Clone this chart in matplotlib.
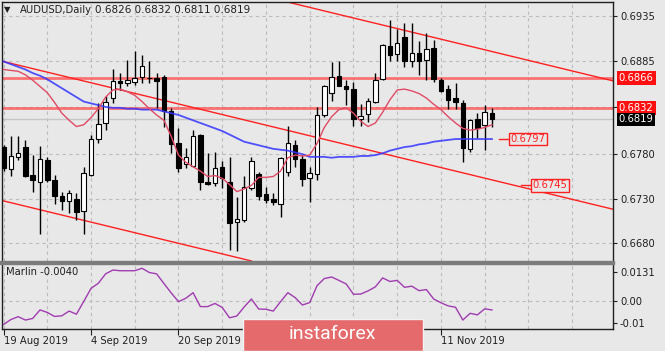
import matplotlib
matplotlib.use('Agg')
import matplotlib.pyplot as plt
from matplotlib.patches import Rectangle
from matplotlib.transforms import blended_transform_factory

# ---------------- data ----------------
date_labels = ["19 Aug 2019", "4 Sep 2019", "20 Sep 2019", "11 Nov 2019"]
date_index = [0, 12, 24, 60]

opens = [0.6788, 0.6763, 0.6777, 0.6788, 0.6757, 0.6749, 0.6774, 0.6751, 0.6733, 0.6727,
         0.6730, 0.6716, 0.6757, 0.6797, 0.6815, 0.6843, 0.6862, 0.6860, 0.6861, 0.6867,
         0.6866, 0.6866, 0.6867, 0.6828, 0.6792, 0.6769, 0.6767, 0.6802, 0.6749, 0.6748,
         0.6766, 0.6749, 0.6704, 0.6706, 0.6742, 0.6758, 0.6735, 0.6730, 0.6724, 0.6760,
         0.6790, 0.6775, 0.6753, 0.6758, 0.6824, 0.6849, 0.6868, 0.6856, 0.6853, 0.6820,
         0.6825, 0.6838, 0.6864, 0.6901, 0.6892, 0.6912, 0.6884, 0.6894, 0.6886, 0.6899,
         0.6863, 0.6853, 0.6843, 0.6837, 0.6786, 0.6819, 0.6813, 0.6826]
highs = [0.6790, 0.6800, 0.6800, 0.6796, 0.6779, 0.6789, 0.6777, 0.6757, 0.6738, 0.6740,
         0.6736, 0.6766, 0.6802, 0.6837, 0.6845, 0.6876, 0.6871, 0.6886, 0.6896, 0.6891,
         0.6884, 0.6871, 0.6869, 0.6832, 0.6809, 0.6787, 0.6807, 0.6803, 0.6781, 0.6783,
         0.6772, 0.6777, 0.6732, 0.6755, 0.6777, 0.6760, 0.6743, 0.6736, 0.6777, 0.6812,
         0.6796, 0.6779, 0.6766, 0.6833, 0.6858, 0.6883, 0.6885, 0.6863, 0.6861, 0.6836,
         0.6843, 0.6871, 0.6904, 0.6931, 0.6920, 0.6927, 0.6927, 0.6907, 0.6916, 0.6908,
         0.6865, 0.6858, 0.6860, 0.6841, 0.6820, 0.6826, 0.6835, 0.6832]
lows = [0.6761, 0.6755, 0.6773, 0.6754, 0.6738, 0.6690, 0.6749, 0.6724, 0.6717, 0.6714,
        0.6706, 0.6690, 0.6755, 0.6793, 0.6807, 0.6837, 0.6852, 0.6856, 0.6858, 0.6860,
        0.6860, 0.6832, 0.6811, 0.6781, 0.6760, 0.6764, 0.6766, 0.6740, 0.6746, 0.6744,
        0.6742, 0.6673, 0.6671, 0.6704, 0.6740, 0.6729, 0.6725, 0.6723, 0.6710, 0.6755,
        0.6766, 0.6744, 0.6726, 0.6751, 0.6822, 0.6840, 0.6856, 0.6835, 0.6812, 0.6812,
        0.6816, 0.6837, 0.6863, 0.6884, 0.6884, 0.6878, 0.6878, 0.6869, 0.6863, 0.6861,
        0.6850, 0.6831, 0.6831, 0.6771, 0.6782, 0.6798, 0.6785, 0.6811]
closes = [0.6764, 0.6778, 0.6781, 0.6756, 0.6751, 0.6775, 0.6751, 0.6733, 0.6728, 0.6736,
          0.6715, 0.6759, 0.6797, 0.6814, 0.6839, 0.6862, 0.6860, 0.6863, 0.6866, 0.6879,
          0.6865, 0.6862, 0.6828, 0.6791, 0.6764, 0.6777, 0.6800, 0.6749, 0.6747, 0.6764,
          0.6753, 0.6703, 0.6707, 0.6743, 0.6772, 0.6733, 0.6729, 0.6726, 0.6776, 0.6793,
          0.6775, 0.6752, 0.6759, 0.6824, 0.6856, 0.6867, 0.6857, 0.6853, 0.6819, 0.6823,
          0.6840, 0.6863, 0.6902, 0.6891, 0.6905, 0.6884, 0.6893, 0.6884, 0.6898, 0.6864,
          0.6851, 0.6841, 0.6838, 0.6787, 0.6818, 0.6809, 0.6827, 0.6819]

ma_slow = [0.6884, 0.6881, 0.6878, 0.6875, 0.6871, 0.6868, 0.6864, 0.6859, 0.6854, 0.6849,
           0.6844, 0.6839, 0.6837, 0.6835, 0.6833, 0.6832, 0.6832, 0.6831, 0.6831, 0.6830,
           0.6830, 0.6830, 0.6828, 0.6826, 0.6824, 0.6821, 0.6818, 0.6815, 0.6812, 0.6809,
           0.6806, 0.6802, 0.6798, 0.6794, 0.6792, 0.6790, 0.6788, 0.6786, 0.6785, 0.6784,
           0.6782, 0.6780, 0.6777, 0.6777, 0.6777, 0.6776, 0.6777, 0.6777, 0.6777, 0.6778,
           0.6778, 0.6779, 0.6781, 0.6784, 0.6786, 0.6788, 0.6789, 0.6791, 0.6792, 0.6794,
           0.6795, 0.6796, 0.6797, 0.6797, 0.6797, 0.6797, 0.6797, 0.6797]
ma_fast = [0.6875, 0.6874, 0.6873, 0.6869, 0.6863, 0.6856, 0.6849, 0.6838, 0.6826, 0.6818,
           0.6811, 0.6813, 0.6821, 0.6831, 0.6844, 0.6852, 0.6853, 0.6850, 0.6846, 0.6839,
           0.6831, 0.6824, 0.6818, 0.6800, 0.6779, 0.6771, 0.6766, 0.6761, 0.6755, 0.6756,
           0.6753, 0.6746, 0.6738, 0.6741, 0.6745, 0.6754, 0.6754, 0.6755, 0.6761, 0.6776,
           0.6779, 0.6778, 0.6779, 0.6792, 0.6810, 0.6822, 0.6830, 0.6832, 0.6826, 0.6817,
           0.6811, 0.6815, 0.6827, 0.6841, 0.6852, 0.6853, 0.6851, 0.6848, 0.6843, 0.6836,
           0.6830, 0.6822, 0.6815, 0.6809, 0.6807, 0.6808, 0.6810, 0.6813]
marlin = [-0.0105, -0.0083, -0.0070, -0.0085, -0.0078, -0.0040, -0.0051, -0.0069, -0.0066, -0.0045,
          -0.0059, -0.0002, 0.0056, 0.0079, 0.0121, 0.0138, 0.0135, 0.0135, 0.0135, 0.0146,
          0.0127, 0.0121, 0.0078, 0.0036, -0.0003, 0.0012, 0.0037, -0.0025, -0.0025, -0.0011,
          -0.0029, -0.0075, -0.0067, -0.0027, 0.0009, -0.0036, -0.0037, -0.0045, -0.0003, 0.0037,
          0.0015, -0.0018, -0.0007, 0.0068, 0.0100, 0.0107, 0.0092, 0.0076, 0.0030, 0.0031,
          0.0045, 0.0063, 0.0103, 0.0087, 0.0092, 0.0061, 0.0066, 0.0046, 0.0051, 0.0009,
          -0.0008, -0.0022, -0.0028, -0.0085, -0.0055, -0.0062, -0.0035, -0.0040]

hlevels = [0.6866, 0.6832]
bid_price = 0.6819
# channel lines: (bar index, price) anchor pairs
channel_upper = [(0, 0.70278), (80, 0.68694)]
channel_mid = [(0, 0.68839), (80, 0.67254)]
channel_low = [(0, 0.67276), (80, 0.65691)]
price_marks = [(68, 0.6797), (71, 0.6745)]

price_ticks = [0.6935, 0.6885, 0.6833, 0.6780, 0.6730, 0.6680]
marlin_ticks = [0.0131, 0.0, -0.01]
marlin_tick_labels = ["0.0131", "0.00", "-0.01"]

# ---------------- style ----------------
BG = '#e8e8e8'
GRID = '#bcbcbc'
RED = '#ff2020'
W, H = 665, 351
FS = 7.2


def fx(px):
    return px / W


def fy(py):
    return 1 - py / H


fig = plt.figure(figsize=(W / 100, H / 100), dpi=100, facecolor=BG)
ax = fig.add_axes([fx(2), fy(261), fx(613) - fx(2), fy(2) - fy(261)])
ax2 = fig.add_axes([fx(2), fy(329), fx(613) - fx(2), fy(264) - fy(329)])

xmin, xmax = -0.21, 83.6
n = len(closes)
xs = list(range(n))

for a in (ax, ax2):
    a.set_facecolor(BG)
    a.set_xlim(xmin, xmax)
    for s in a.spines.values():
        s.set_color('#202020')
        s.set_linewidth(1)
    for gx in range(0, 84, 6):
        a.axvline(gx, color=GRID, lw=0.8, ls=(0, (3, 3)), zorder=0.5)

# main panel
ax.set_ylim(0.66602, 0.69507)
for p in price_ticks:
    ax.axhline(p, color=GRID, lw=0.8, ls=(0, (3, 3)), zorder=0.5)
ax.yaxis.tick_right()
ax.set_yticks(price_ticks)
ax.set_yticklabels([f"{p:.4f}" for p in price_ticks])
ax.tick_params(axis='y', length=3, width=0.8, colors='#202020', labelsize=FS, pad=2)
ax.set_xticks([])
ax.spines['bottom'].set_visible(False)

# horizontal levels
for lv in hlevels:
    ax.axhline(lv, color='#ff5555', lw=2.0, alpha=0.8, zorder=1.5)
ax.axhline(bid_price, color='#c6c6c6', lw=1.0, zorder=1.2)

# channel lines
for ln in (channel_upper, channel_mid, channel_low):
    ax.axline(ln[0], ln[1], color=RED, lw=1.0, zorder=1.6)

# candles
ax.vlines(xs, lows, highs, color='black', lw=1.0, zorder=2)
bottoms = [min(o, c) for o, c in zip(opens, closes)]
heights = [max(abs(c - o), 0.00004) for o, c in zip(opens, closes)]
colors = ['white' if c >= o else 'black' for o, c in zip(opens, closes)]
ax.bar(xs, heights, bottom=bottoms, width=0.62, color=colors, edgecolor='black',
       linewidth=0.8, zorder=3)

# moving averages
ax.plot(xs, ma_slow, color='#3535ff', lw=1.3, alpha=0.85, zorder=4)
ax.plot(xs, ma_fast, color='#e04a66', lw=1.0, zorder=4)

# price label objects
for (ix, pv) in price_marks:
    ax.plot([ix, ix + 1.2], [pv, pv], color=RED, lw=1.0, zorder=5)
    ax.text(ix + 1.55, pv, f"{pv:.4f}", color=RED, fontsize=FS, ha='left', va='center',
            zorder=6, bbox=dict(boxstyle='square,pad=0.12', fc=BG, ec=RED, lw=1.0))

# right axis boxes
tr = blended_transform_factory(ax.transAxes, ax.transData)
for lv in hlevels:
    ax.text(1.0095, lv, f"{lv:.4f}", transform=tr, color='white', fontsize=FS,
            ha='left', va='center', clip_on=False, zorder=7,
            bbox=dict(boxstyle='square,pad=0.2', fc='#ff1010', ec='none'))
ax.text(1.0095, bid_price, f"{bid_price:.4f}", transform=tr, color='white', fontsize=FS,
        ha='left', va='center', clip_on=False, zorder=8,
        bbox=dict(boxstyle='square,pad=0.15', fc='black', ec='none'))

# header
fig.text(fx(4), fy(10), "\u25bc", fontsize=6, color='#202020', va='center', ha='left')
fig.text(fx(20), fy(10), "AUDUSD,Daily", fontsize=FS, color='#202020', va='center', ha='left')
fig.text(fx(95), fy(10), " ".join([f"{v:.4f}" for v in (opens[-1], highs[-1], lows[-1], closes[-1])]),
         fontsize=FS + 0.3, color='#202020', va='center', ha='left')

# lower panel
ax2.set_ylim(-0.0125, 0.0165)
ax2.axhline(0.0, color=GRID, lw=0.8, ls=(0, (3, 3)), zorder=0.5)
ax2.plot(xs, marlin, color='#a03cb0', lw=1.0, zorder=3)
ax2.yaxis.tick_right()
ax2.set_yticks(marlin_ticks)
ax2.set_yticklabels(marlin_tick_labels)
ax2.tick_params(axis='y', length=3, width=0.8, colors='#202020', labelsize=FS, pad=2)
ax2.set_xticks(date_index)
ax2.set_xticklabels(date_labels)
ax2.tick_params(axis='x', length=4, width=0.8, colors='#202020', labelsize=FS, pad=1)
for lbl in ax2.get_xticklabels():
    lbl.set_ha('left')
ax2.spines['top'].set_visible(False)
ax2.text(0.006, 0.88, f"Marlin {marlin[-1]:.4f}", transform=ax2.transAxes, fontsize=FS,
         color='#202020', ha='left', va='center')

# separator between panels
fig.add_artist(Rectangle((0, fy(264.2)), fx(614), 3 / H, transform=fig.transFigure,
                         color='#7c7c7c', zorder=5))

# watermark
fig.add_artist(Rectangle((fx(243), 0), fx(423) - fx(243), fy(318.5), transform=fig.transFigure,
                         fc='#e46a6c', ec='#f2f2f2', lw=1.0, zorder=10))
fig.text(fx(332), fy(334), "instaforex", fontsize=14, color='white', ha='center', va='center',
         family=['Roboto', 'DejaVu Sans'], zorder=11)

fig.savefig('out.png', dpi=100, facecolor=BG)
